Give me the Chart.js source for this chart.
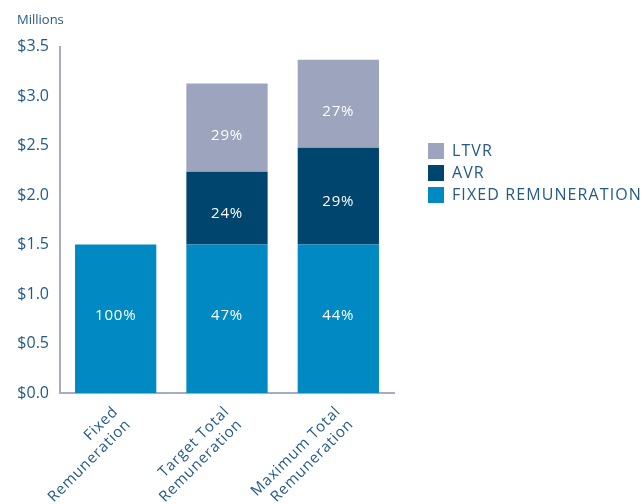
<!DOCTYPE html>
<html><head><meta charset="utf-8">
<script src="https://cdn.jsdelivr.net/npm/chart.js@4"></script>
<style>html,body{margin:0;padding:0;background:#fff}</style>
</head><body>
<canvas id="c" width="644" height="504"></canvas>
<script>
const categories = [['Fixed', 'Remuneration'], ['Target Total', 'Remuneration'], ['Maximum Total', 'Remuneration']];
const seriesNames = ['FIXED REMUNERATION', 'AVR', 'LTVR'];
const fixedValues = [1.5, 1.5, 1.5];
const avrValues = [null, 0.735, 0.978];
const ltvrValues = [null, 0.891, 0.89];
const fixedPct = ['100%', '47%', '44%'];
const avrPct = ['', '24%', '29%'];
const ltvrPct = ['', '29%', '27%'];
const yTickLabels = ['$0.0', '$0.5', '$1.0', '$1.5', '$2.0', '$2.5', '$3.0', '$3.5'];

const TEXT = '#245a87';
const AXIS = '#a6acc4';
const FONT = '"Open Sans", sans-serif';
const pctSets = [fixedPct, avrPct, ltvrPct];
const pctNudge = [-3, 6, 8];

const barLabels = {
  id: 'barLabels',
  afterDatasetsDraw(chart) {
    const ctx = chart.ctx;
    chart.data.datasets.forEach((ds, i) => {
      chart.getDatasetMeta(i).data.forEach((bar, j) => {
        const t = pctSets[i][j];
        if (!t) return;
        const p = bar.getProps(['x', 'y', 'base'], true);
        ctx.save();
        ctx.letterSpacing = '0.8px';
        ctx.fillStyle = '#ffffff';
        ctx.font = '15px ' + FONT;
        ctx.textAlign = 'center';
        ctx.textBaseline = 'middle';
        ctx.fillText(t, p.x, (p.y + p.base) / 2 + pctNudge[i]);
        ctx.restore();
      });
    });
  }
};

function withSpacing(obj, fnName, spacing) {
  if (!obj || obj['_ls_' + fnName]) return;
  const orig = obj[fnName];
  obj[fnName] = function (...args) {
    const ctx = this.ctx;
    const prev = ctx.letterSpacing;
    ctx.letterSpacing = spacing;
    const r = orig.apply(this, args);
    ctx.letterSpacing = prev;
    return r;
  };
  obj['_ls_' + fnName] = true;
}

const LEGEND_W = 250, SHIFT_X = 28, SHIFT_Y = 137;
const legendPlace = {
  id: 'legendPlace',
  beforeLayout(chart) {
    const lg = chart.legend;
    if (lg && !lg._wrapped) {
      const fit = lg.fit;
      lg.fit = function () { fit.call(this); this.width = LEGEND_W; };
      lg._wrapped = true;
    }
  },
  afterLayout(chart) {
    const lg = chart.legend;
    lg.left += SHIFT_X;
    lg.top += SHIFT_Y;
    withSpacing(lg, 'draw', '1.1px');
    withSpacing(chart.scales.x, 'drawLabels', '0.8px');
  }
};

new Chart(document.getElementById('c'), {
  type: 'bar',
  data: {
    labels: categories,
    datasets: [
      { label: seriesNames[0], data: fixedValues, backgroundColor: '#0089c2' },
      { label: seriesNames[1], data: avrValues, backgroundColor: '#00456e' },
      { label: seriesNames[2], data: ltvrValues, backgroundColor: '#9da4be' }
    ]
  },
  options: {
    responsive: false,
    animation: false,
    devicePixelRatio: 1,
    layout: { padding: { left: 17, top: 0, right: 0, bottom: 0 } },
    datasets: { bar: { categoryPercentage: 1, barPercentage: 0.73 } },
    scales: {
      x: {
        stacked: true,
        grid: { display: false, drawTicks: false },
        border: { display: true, color: AXIS, width: 2 },
        ticks: { color: TEXT, font: { family: FONT, size: 15 }, minRotation: 45, maxRotation: 45, padding: 10 },
        afterFit(s) { s.height = 111; }
      },
      y: {
        stacked: true,
        min: 0, max: 3.5,
        grid: { display: false, drawTicks: false },
        border: { display: true, color: AXIS, width: 2 },
        ticks: {
          stepSize: 0.5, padding: 11, color: TEXT, font: { family: FONT, size: 16 },
          callback: (v, i) => yTickLabels[i]
        },
        afterFit(s) { s.width = 43; }
      }
    },
    plugins: {
      title: {
        display: true, text: 'Millions', align: 'start', color: TEXT,
        font: { family: FONT, size: 13, weight: 'normal' },
        padding: { top: 12, bottom: 19 }
      },
      legend: {
        position: 'right', align: 'start', reverse: true, maxWidth: 400,
        labels: { boxWidth: 16, boxHeight: 16, padding: 6, color: TEXT, font: { family: FONT, size: 16 } }
      },
      tooltip: { enabled: false }
    }
  },
  plugins: [barLabels, legendPlace]
});
</script>
</body></html>
